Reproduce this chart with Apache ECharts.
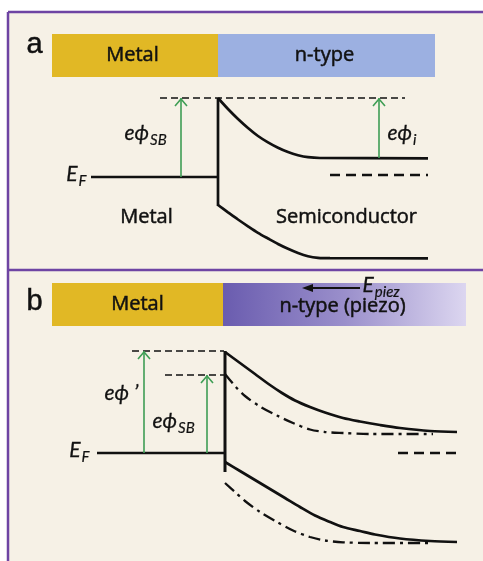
<!DOCTYPE html>
<html><head><meta charset="utf-8">
<script src="https://cdn.jsdelivr.net/npm/echarts@6/dist/echarts.min.js"></script>
<style>html,body{margin:0;padding:0;background:#fff}#c{width:483px;height:561px}</style>
</head><body><div id="c"></div>
<script>
// ---- data (diagram units: x 0..483, y 0..561 downward) ----
const backgroundRect = [[9, 13, 483, 561]];
const headerBars = [[52, 34, 218, 77], [218, 34, 435, 77], [52, 283, 223, 326], [223, 283, 466, 326]];
const frameLeft = [[8, 12], [8, 561]];
const frameTop = [[8, 12], [483, 12]];
const frameDivider = [[8, 270], [483, 270]];

// panel a
const aConduction = [[218, 98], [228, 109], [238, 119], [248, 128], [258, 136], [268, 142.4], [278, 147.8], [288, 152.1], [298, 155.2], [308, 157.2], [320, 158], [428, 158.3]];
const aValence = [[218, 205], [228, 212.3], [238, 219.5], [248, 226.3], [258, 232.8], [268, 238.5], [278, 244], [288, 248.8], [298, 253], [308, 256.2], [318, 257.8], [330, 258.2], [428, 258.3]];
const aInterface = [[218, 98], [218, 206]];
const aFermiMetal = [[91, 177], [218, 177]];
const aBarrierLevel = [[160, 98], [405, 98]];
const aFermiSemi = [[330, 175], [428, 175]];
const aArrows = [[181, 177, 98], [379, 158, 98]];

// panel b
const bConduction = [[225, 352], [240, 363], [255, 374], [270, 385], [282, 393], [295, 400.5], [310, 407], [325, 412.5], [343, 418], [360, 421.5], [380, 425], [400, 428], [430, 431], [457, 432]];
const bConductionOld = [[225, 374], [235, 386], [245, 396], [260, 406.5], [277, 415.5], [293, 423], [310, 429.5], [325, 432], [343, 433], [370, 434], [433, 434]];
const bValence = [[225, 462], [240, 471], [255, 480], [270, 489], [285, 498], [300, 507], [315, 515.5], [330, 522], [343, 527], [360, 531], [375, 534.5], [400, 538.5], [430, 541], [457, 542]];
const bValenceOld = [[225, 483], [235, 492], [245, 501], [260, 512], [277, 522], [293, 530.5], [310, 537], [325, 540.5], [343, 542.3], [370, 543], [433, 543]];
const bInterface = [[225, 351], [225, 472]];
const bFermiMetal = [[97, 453], [225, 453]];
const bBarrierNew = [[132, 351], [224, 351]];
const bBarrierOld = [[165, 375], [224, 375]];
const bFermiSemi = [[398, 453], [459, 453]];
const bArrows = [[144, 453, 351], [207, 453, 375]];
const piezoArrow = [[360, 288, 302]];

// texts: [x, y, text]
const panelLetters = [[35, 45, 'a'], [35, 302, 'b']];
const barTexts = [[133, 56, 'Metal'], [325, 56, 'n-type'], [138, 305, 'Metal'], [343, 307, 'n-type (piezo)']];
const regionTexts = [[147, 218, 'Metal'], [347, 218, 'Semiconductor']];
const symbolTexts = [
  [87, 175, 'E', 'F', 'right'],
  [125, 134, 'eϕ', 'SB', 'left'],
  [388, 134, 'eϕ', 'i', 'left'],
  [90, 451, 'E', 'F', 'right'],
  [105, 394, 'eϕ ’', '', 'left'],
  [153, 422, 'eϕ', 'SB', 'left'],
  [363, 286, 'E', 'piez', 'left']
];

// ---- styles ----
const INK = '#111111';
const GREEN = '#3f9e55';
const barFills = ['#e1b825', '#9cb0e1', '#e1b825', null];
const sansFont = '"Open Sans", Lato, sans-serif';
const italicFont = 'Lato, "Open Sans", sans-serif';

const chart = echarts.init(document.getElementById('c'), null, {renderer: 'canvas'});

function lineSeries(data, opts) {
  return Object.assign({
    type: 'line', data: data, symbol: 'none', silent: true, animation: false,
    smooth: false,
    lineStyle: {color: INK, width: 2.7, cap: 'butt'}, z: 5
  }, opts || {});
}

function rectSeries(data, fills, z) {
  return {
    type: 'custom', data: data, silent: true, animation: false, z: z,
    renderItem: function (params, api) {
      const p0 = api.coord([api.value(0), api.value(1)]);
      const p1 = api.coord([api.value(2), api.value(3)]);
      let fill = fills[params.dataIndex];
      if (!fill) {
        fill = new echarts.graphic.LinearGradient(0, 0, 1, 0, [
          {offset: 0, color: '#6a5caf'},
          {offset: 0.5, color: '#9a8fcb'},
          {offset: 1, color: '#dcd6f0'}
        ]);
      }
      return {type: 'rect', shape: {x: p0[0], y: p0[1], width: p1[0] - p0[0], height: p1[1] - p0[1]}, style: {fill: fill}};
    }
  };
}

function arrowSeries(data) {
  return {
    type: 'custom', data: data, silent: true, animation: false, z: 6,
    renderItem: function (params, api) {
      const a = api.coord([api.value(0), api.value(1)]);
      const b = api.coord([api.value(0), api.value(2)]);
      return {type: 'group', children: [
        {type: 'line', shape: {x1: a[0], y1: a[1], x2: b[0], y2: b[1]}, style: {stroke: GREEN, lineWidth: 1.6}},
        {type: 'polyline', shape: {points: [[b[0] - 6, b[1] + 8], [b[0], b[1] + 1], [b[0] + 6, b[1] + 8]]}, style: {stroke: GREEN, lineWidth: 1.6, fill: null}}
      ]};
    }
  };
}

function piezoSeries(data) {
  return {
    type: 'custom', data: data, silent: true, animation: false, z: 6,
    renderItem: function (params, api) {
      const a = api.coord([api.value(0), api.value(1)]);
      const b = api.coord([api.value(2), api.value(1)]);
      return {type: 'group', children: [
        {type: 'line', shape: {x1: a[0], y1: a[1], x2: b[0] + 8, y2: b[1]}, style: {stroke: INK, lineWidth: 1.8}},
        {type: 'polygon', shape: {points: [[b[0], b[1]], [b[0] + 11, b[1] - 4], [b[0] + 11, b[1] + 4]]}, style: {fill: INK}}
      ]};
    }
  };
}

function textSeries(data, labelOpts, fmt) {
  return {
    type: 'scatter', silent: true, animation: false, z: 10,
    symbol: 'circle', symbolSize: 1, itemStyle: {color: 'rgba(0,0,0,0)'},
    data: data.map(function (d) {
      return {value: [d[0], d[1]],
        label: Object.assign({show: true, position: [0, 0], align: d[4] || 'center', verticalAlign: 'middle',
          textBorderColor: INK, textBorderWidth: 0.5, opacity: 1,
          formatter: fmt(d)}, labelOpts)};
    })
  };
}

const series = [
  rectSeries(backgroundRect, ['#f6f1e6'], 0),
  rectSeries(headerBars, barFills, 1),
  lineSeries(frameLeft, {lineStyle: {color: '#6e44a3', width: 2.5}, z: 2}),
  lineSeries(frameTop, {lineStyle: {color: '#6e44a3', width: 2.5}, z: 2}),
  lineSeries(frameDivider, {lineStyle: {color: '#6e44a3', width: 2.5}, z: 2}),

  lineSeries(aConduction, {smooth: 0.3}),
  lineSeries(aValence, {smooth: 0.3}),
  lineSeries(aInterface),
  lineSeries(aFermiMetal),
  lineSeries(aBarrierLevel, {lineStyle: {color: INK, width: 1.7, type: [7, 4]}}),
  lineSeries(aFermiSemi, {lineStyle: {color: INK, width: 2.3, type: [10, 6]}}),
  arrowSeries(aArrows),

  lineSeries(bConduction, {smooth: 0.3}),
  lineSeries(bConductionOld, {smooth: 0.3, lineStyle: {color: INK, width: 2.3, type: [12, 5, 3, 5]}}),
  lineSeries(bValence, {smooth: 0.3}),
  lineSeries(bValenceOld, {smooth: 0.3, lineStyle: {color: INK, width: 2.3, type: [12, 5, 3, 5]}}),
  lineSeries(bInterface, {lineStyle: {color: INK, width: 3}}),
  lineSeries(bFermiMetal),
  lineSeries(bBarrierNew, {lineStyle: {color: INK, width: 1.7, type: [7, 4]}}),
  lineSeries(bBarrierOld, {lineStyle: {color: INK, width: 1.7, type: [7, 4]}}),
  lineSeries(bFermiSemi, {lineStyle: {color: INK, width: 2.3, type: [10, 6]}}),
  arrowSeries(bArrows),
  piezoSeries(piezoArrow),

  textSeries(panelLetters, {fontFamily: '"Liberation Sans", Arial, sans-serif', fontSize: 29, color: INK}, function (d) { return d[2]; }),
  textSeries(barTexts, {fontFamily: sansFont, fontSize: 20, color: INK}, function (d) { return d[2]; }),
  textSeries(regionTexts, {fontFamily: sansFont, fontSize: 20, color: INK}, function (d) { return d[2]; }),
  textSeries(symbolTexts, {
    color: INK,
    rich: {
      m: {fontFamily: italicFont, fontStyle: 'italic', fontSize: 21, color: INK, textBorderColor: INK, textBorderWidth: 0.3},
      s: {fontFamily: italicFont, fontStyle: 'italic', fontSize: 15, color: INK, textBorderColor: INK, textBorderWidth: 0.2, padding: [14, 0, 0, 1]}
    }
  }, function (d) { return '{m|' + d[2] + '}' + (d[3] ? '{s|' + d[3] + '}' : ''); })
];

chart.setOption({
  backgroundColor: '#ffffff',
  animation: false,
  grid: {left: 0, right: 0, top: 0, bottom: 0},
  xAxis: {type: 'value', min: 0, max: 483, show: false},
  yAxis: {type: 'value', min: 0, max: 561, inverse: true, show: false},
  series: series
});
</script></body></html>
